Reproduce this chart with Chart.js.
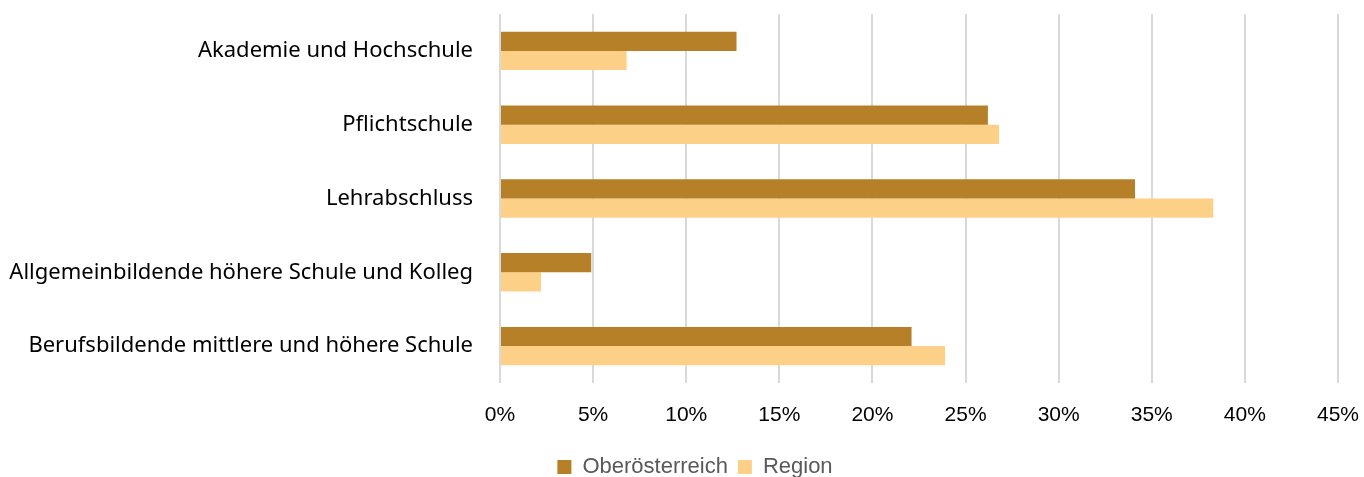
<!DOCTYPE html>
<html>
<head>
<meta charset="utf-8">
<script src="https://cdn.jsdelivr.net/npm/chart.js@4"></script>
<style>
html,body{margin:0;padding:0;background:#fff;overflow:hidden;}
#wrap{width:1364px;height:477px;position:relative;}
</style>
</head>
<body>
<div id="wrap"><canvas id="c" width="1364" height="477"></canvas></div>
<script>
const categories = [
  "Akademie und Hochschule",
  "Pflichtschule",
  "Lehrabschluss",
  "Allgemeinbildende höhere Schule und Kolleg",
  "Berufsbildende mittlere und höhere Schule"
];
const seriesNames = ["Oberösterreich", "Region"];
const oberoesterreich = [12.7, 26.2, 34.1, 4.9, 22.1];
const region = [6.8, 26.8, 38.3, 2.2, 23.9];
const xTicks = [0, 5, 10, 15, 20, 25, 30, 35, 40, 45];

const legendShift = {
  id: 'legendShift',
  afterLayout(chart) {
    if (chart.legend) { chart.legend.left += 26; chart.legend.right += 26; }
  }
};

const ch = new Chart(document.getElementById('c'), {
  type: 'bar',
  data: {
    labels: categories,
    datasets: [
      {label: seriesNames[0], data: oberoesterreich, backgroundColor: '#B58027', categoryPercentage: 0.52, barPercentage: 1.0},
      {label: seriesNames[1], data: region, backgroundColor: '#FDD088', categoryPercentage: 0.52, barPercentage: 1.0}
    ]
  },
  plugins: [legendShift],
  options: {
    indexAxis: 'y',
    responsive: false,
    animation: false,
    layout: {padding: {top: 14, right: 26, left: 0, bottom: -11}},
    plugins: {
      legend: {
        position: 'bottom',
        labels: {
          font: {family: '"Liberation Sans", sans-serif', size: 22},
          color: '#595959',
          boxWidth: 14, boxHeight: 14, padding: 10
        }
      },
      tooltip: {enabled: false}
    },
    scales: {
      x: {
        min: 0, max: 45,
        afterBuildTicks: (s) => { s.ticks = xTicks.map(v => ({value: v})); },
        afterFit: (s) => { s.paddingLeft = 0; s.paddingRight = 0; s.height = 63; },
        ticks: {
          callback: (v) => v + '%',
          font: {family: '"Liberation Sans", sans-serif', size: 21},
          color: '#000', padding: 20
        },
        grid: {color: '#d9d9d9', lineWidth: 2, drawTicks: false},
        border: {display: false}
      },
      y: {
        afterFit: (s) => { s.width = 500; s.paddingTop = 0; s.paddingBottom = 0; },
        ticks: {
          font: {family: '"Noto Sans", sans-serif', size: 22},
          color: '#000', padding: 19
        },
        grid: {display: false},
        border: {display: false}
      }
    }
  }
});
</script>
</body>
</html>
